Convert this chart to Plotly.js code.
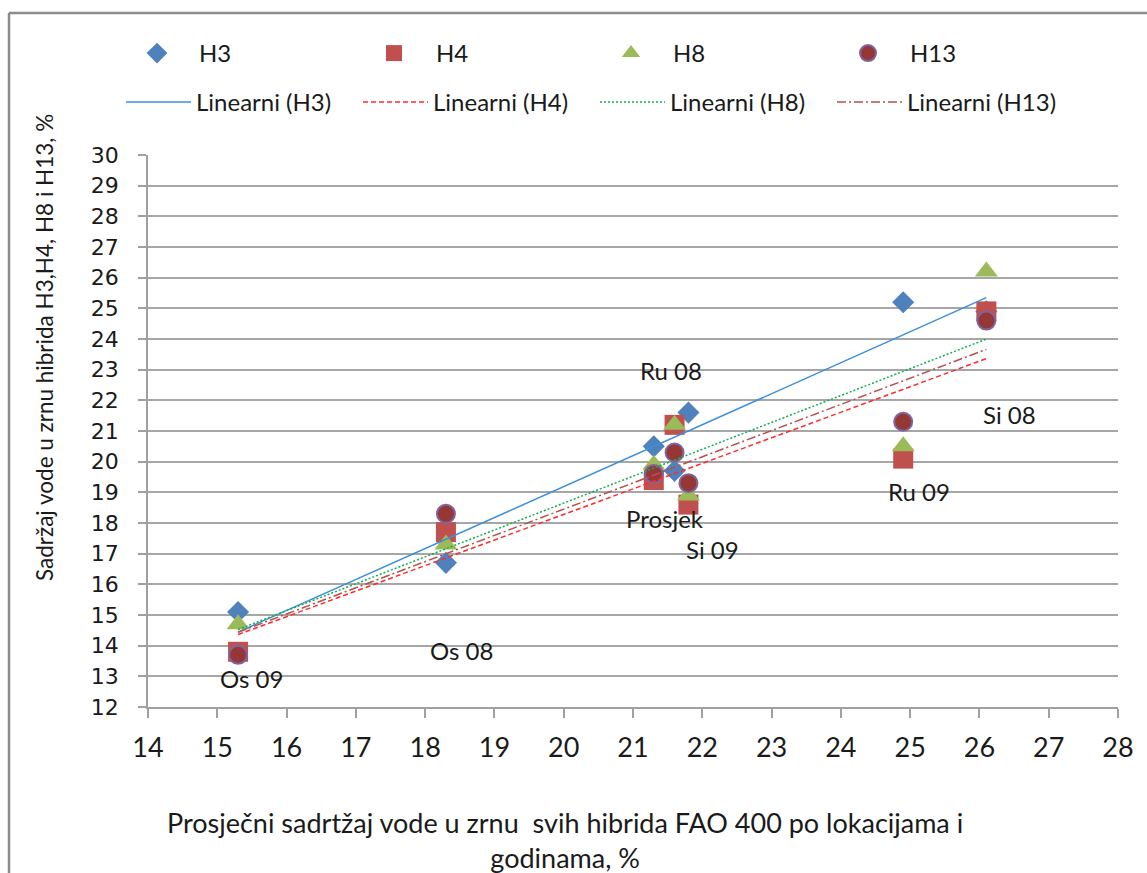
<!DOCTYPE html>
<html>
<head>
<meta charset="utf-8">
<script src="https://cdn.plot.ly/plotly-3.0.1.min.js"></script>
<style>html,body{margin:0;padding:0;background:#fff;}#chart{width:1147px;height:873px;}</style>
</head>
<body>
<div id="chart"></div>
<script>
// Average grain water content of all FAO 400 hybrids per location/year (%)
const locations = ['Os 09', 'Os 08', 'Prosjek', 'Ru 08', 'Si 09', 'Ru 09', 'Si 08'];
const xAvg = [15.3, 18.3, 21.3, 21.6, 21.8, 24.9, 26.1];
// Grain water content per hybrid (%)
const h3  = [15.1, 16.7, 20.5, 19.7, 21.6, 25.2, 24.9];
const h4  = [13.8, 17.7, 19.4, 21.2, 18.6, 20.1, 24.9];
const h8  = [14.7, 17.3, 19.9, 21.2, 18.9, 20.5, 26.2];
const h13 = [13.7, 18.3, 19.6, 20.3, 19.3, 21.3, 24.6];
const seriesNames = ['H3', 'H4', 'H8', 'H13'];
const yTicks = [12,13,14,15,16,17,18,19,20,21,22,23,24,25,26,27,28,29,30];
const xTicks = [14,15,16,17,18,19,20,21,22,23,24,25,26,27,28];

// data label placement (data coordinates) for the location names
const labelPos = {
  'Os 09':   [15.50, 12.92],
  'Os 08':   [18.52, 13.84],
  'Prosjek': [21.46, 18.14],
  'Ru 08':   [21.55, 22.96],
  'Si 09':   [22.15, 17.13],
  'Ru 09':   [25.13, 19.02],
  'Si 08':   [26.43, 21.53]
};

function linfit(xs, ys) {
  const n = xs.length;
  const mx = xs.reduce((a,b)=>a+b,0)/n, my = ys.reduce((a,b)=>a+b,0)/n;
  let sxy = 0, sxx = 0;
  for (let i=0;i<n;i++){ sxy += (xs[i]-mx)*(ys[i]-my); sxx += (xs[i]-mx)**2; }
  const b = sxy/sxx, a = my - b*mx;
  const x0 = Math.min(...xs), x1 = Math.max(...xs);
  return {x:[x0,x1], y:[a+b*x0, a+b*x1]};
}

const allY = [h3, h4, h8, h13];
const markerStyles = [
  {symbol:'diamond', size:17, color:'#4f81bd', line:{width:0}},
  {symbol:'square', size:20, color:'#c0504d', line:{width:0}},
  {symbol:'triangle-up', size:20, color:'#9bbb59', line:{width:0}},
  {symbol:'circle', size:18, color:'#953735', line:{width:2, color:'#8064a2'}}
];
const lineStyles = [
  {color:'#3d8fdc', width:1.5, dash:'solid'},
  {color:'#ff2b2b', width:1.5, dash:'5px,3px'},
  {color:'#10b050', width:1.5, dash:'2px,2px'},
  {color:'#b5504d', width:1.5, dash:'9px,3px,2px,3px'}
];

const traces = [];
seriesNames.forEach((nm, i) => {
  traces.push({
    type:'scatter', mode:'markers', name:nm, x:xAvg, y:allY[i],
    marker:markerStyles[i], legend:'legend', hoverinfo:'x+y+name'
  });
});
seriesNames.forEach((nm, i) => {
  const f = linfit(xAvg, allY[i]);
  traces.push({
    type:'scatter', mode:'lines', name:'Linearni (' + nm + ')', x:f.x, y:f.y,
    line:lineStyles[i], legend:'legend2', hoverinfo:'skip'
  });
});

const txtFont = 'Lato, "Open Sans", sans-serif';
const annotations = locations.map(loc => ({
  x: labelPos[loc][0], y: labelPos[loc][1], xref:'x', yref:'y',
  text: loc, showarrow:false, xanchor:'center', yanchor:'middle',
  font:{family:txtFont, size:24, color:'#1a1a1a'}
}));
annotations.push({
  xref:'paper', yref:'paper', x:(565-148)/970, y:(707-840)/552,
  xanchor:'center', yanchor:'middle', showarrow:false,
  text:'Prosječni sadrtžaj vode u zrnu  svih hibrida FAO 400 po lokacijama i<br>godinama, %',
  font:{family:txtFont, size:27, color:'#1a1a1a'}
});
annotations.push({
  xref:'paper', yref:'paper', x:(44-148)/970, y:(707-348)/552,
  xanchor:'center', yanchor:'middle', showarrow:false, textangle:-90,
  text:'Sadržaj vode u zrnu hibrida H3,H4, H8 i H13, %',
  font:{family:txtFont, size:22.5, color:'#1a1a1a'}
});

const layout = {
  width:1147, height:873,
  margin:{l:148, r:29, t:155, b:166, autoexpand:false},
  paper_bgcolor:'#ffffff', plot_bgcolor:'#ffffff',
  showlegend:true,
  xaxis:{
    range:[14,28], tickvals:xTicks, ticktext:xTicks.map(String),
    showgrid:false, zeroline:false, showline:true, linecolor:'#a0a0a0', linewidth:1.5,
    ticks:'outside', ticklen:9, tickwidth:1.5, tickcolor:'#a0a0a0',
    tickfont:{family:txtFont, size:27, color:'#1a1a1a'}, ticklabelstandoff:7,
    fixedrange:true
  },
  yaxis:{
    range:[12,30], tickvals:yTicks, ticktext:yTicks.map(String),
    showgrid:true, gridcolor:'#a6a6a6', gridwidth:1.5,
    zeroline:false, showline:true, linecolor:'#a0a0a0', linewidth:1.5,
    ticks:'outside', ticklen:8, tickwidth:1.5, tickcolor:'#a0a0a0',
    tickfont:{family:'"DejaVu Sans", Verdana, sans-serif', size:22, color:'#1a1a1a'},
    ticklabelstandoff:15, fixedrange:true
  },
  legend:{
    orientation:'h', x:(115-148)/970, y:(707-31)/552, xanchor:'left', yanchor:'top',
    itemwidth:74, entrywidth:148, entrywidthmode:'pixels',
    font:{family:txtFont, size:24, color:'#1a1a1a'}, bgcolor:'rgba(0,0,0,0)', borderwidth:0,
    itemclick:false, itemdoubleclick:false
  },
  legend2:{
    orientation:'h', x:(121-148)/970, y:(707-80)/552, xanchor:'left', yanchor:'top',
    itemwidth:65, entrywidth:157, entrywidthmode:'pixels',
    font:{family:txtFont, size:24, color:'#1a1a1a'}, bgcolor:'rgba(0,0,0,0)', borderwidth:0,
    itemclick:false, itemdoubleclick:false
  },
  annotations:annotations,
  shapes:[
    {type:'line', xref:'paper', yref:'paper', x0:(9-148)/970, x1:(1160-148)/970,
     y0:(707-13)/552, y1:(707-13)/552, line:{color:'#8c8c8c', width:2.5}, layer:'below'},
    {type:'line', xref:'paper', yref:'paper', x0:(9-148)/970, x1:(9-148)/970,
     y0:(707-13)/552, y1:(707-880)/552, line:{color:'#8c8c8c', width:2.5}, layer:'below'}
  ]
};

Plotly.newPlot('chart', traces, layout, {displayModeBar:false, staticPlot:false, responsive:false});
</script>
</body>
</html>
